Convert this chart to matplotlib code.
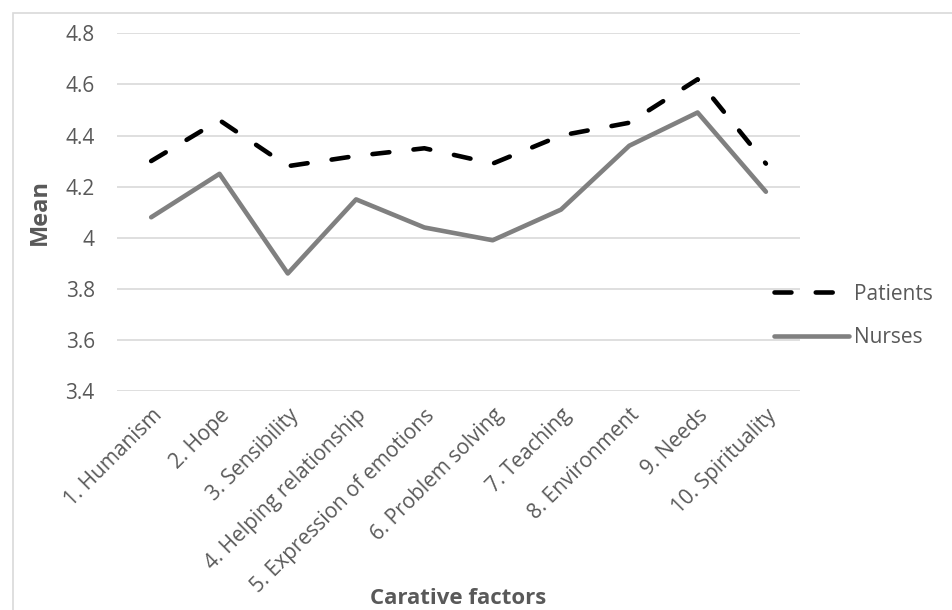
import matplotlib
matplotlib.use("Agg")
import matplotlib.pyplot as plt
from matplotlib.patches import Rectangle

categories = ["1. Humanism", "2. Hope", "3. Sensibility", "4. Helping relationship",
              "5. Expression of emotions", "6. Problem solving", "7. Teaching",
              "8. Environment", "9. Needs", "10. Spirituality"]
patients = [4.30, 4.46, 4.28, 4.32, 4.35, 4.29, 4.40, 4.45, 4.62, 4.29]
nurses = [4.08, 4.25, 3.86, 4.15, 4.04, 3.99, 4.11, 4.36, 4.49, 4.18]
yticks = [3.4, 3.6, 3.8, 4.0, 4.2, 4.4, 4.6, 4.8]
ytick_labels = ["3.4", "3.6", "3.8", "4", "4.2", "4.4", "4.6", "4.8"]

plt.rcParams['font.family'] = ['Open Sans', 'DejaVu Sans']
txt = '#595959'
fs = 15

fig = plt.figure(figsize=(9.53, 6.10), dpi=100)
ax = fig.add_axes([0.1228, 0.359, 0.7167, 0.5864])

# outer frame like the Excel chart area
fig.patches.append(Rectangle((13 / 953, -0.05), 1.0, 1 - 13 / 610 + 0.05,
                             transform=fig.transFigure, fill=False,
                             edgecolor='#d9d9d9', linewidth=1.2))

x = list(range(len(categories)))
ax.plot(x, patients, color='black', linewidth=3.3, dashes=(3.7, 5.3),
        dash_capstyle='round', solid_joinstyle='round', label='Patients')
ax.plot(x, nurses, color='#808080', linewidth=3.3, solid_capstyle='round',
        solid_joinstyle='round', label='Nurses')

ax.set_xlim(-0.5, len(categories) - 0.5)
ax.set_ylim(3.4, 4.8)
ax.set_yticks(yticks)
ax.set_yticklabels(ytick_labels)
ax.set_xticks(x)
ax.set_xticklabels(categories, rotation=45, ha='right', rotation_mode='anchor')
ax.yaxis.grid(True, color='#d9d9d9', linewidth=1.2)
ax.set_axisbelow(True)
for s in ax.spines.values():
    s.set_visible(False)
ax.tick_params(axis='both', length=0, labelsize=fs, labelcolor=txt)
ax.tick_params(axis='y', pad=16)
ax.tick_params(axis='x', pad=10)

ax.set_ylabel("Mean", fontsize=17, fontweight='bold', color=txt, labelpad=10)
fig.text(458 / 953, 1 - 598 / 610, "Carative factors", fontsize=16,
         fontweight='bold', color=txt, ha='center', va='center')

fig.legend(loc='center left', bbox_to_anchor=(774 / 953, 1 - 316 / 610),
           frameon=False, fontsize=fs, labelcolor=txt, handlelength=3.6,
           handletextpad=0.25, labelspacing=1.1, borderpad=0, borderaxespad=0)

fig.savefig("out.png", dpi=100)
